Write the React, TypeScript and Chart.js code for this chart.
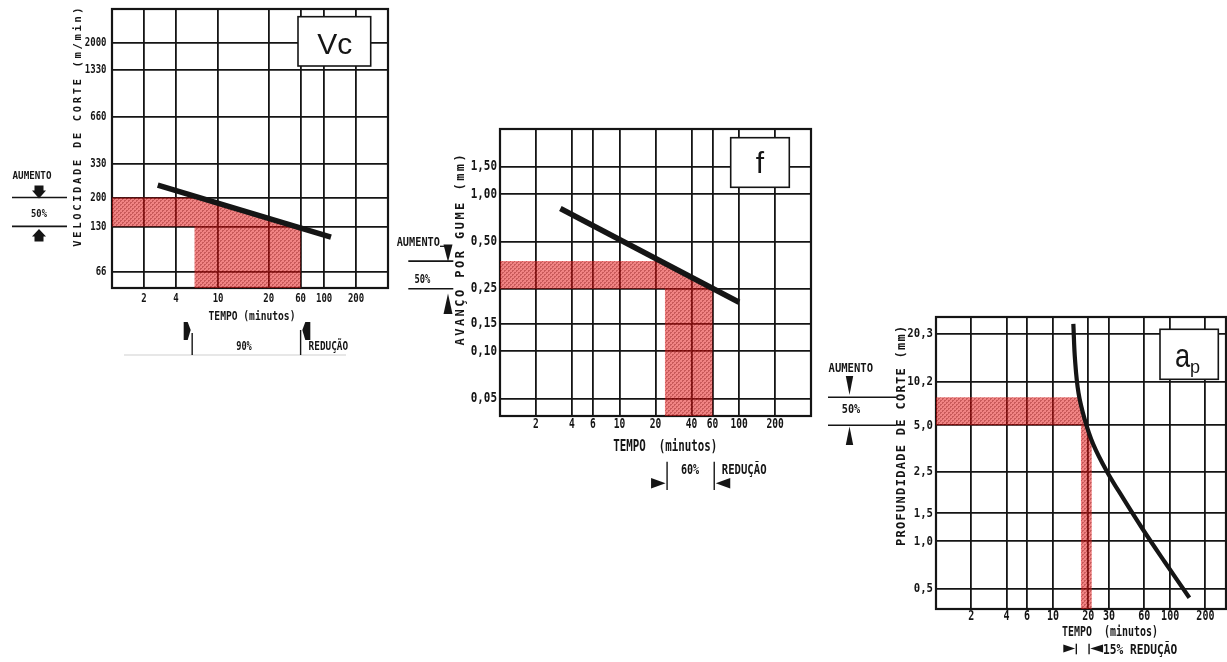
import { useEffect, useRef } from 'react';
import { Chart, registerables } from 'chart.js';

Chart.register(...registerables);

const INK = '#151515';
const MONO = '"DejaVu Sans Mono", "Liberation Mono", monospace';
const SANS = '"Liberation Sans", Arial, sans-serif';

// ---------------- Vc: velocidade de corte x tempo ----------------
const VC_TIME_MIN = 1;
const VC_TIME_MAX = 400;
const VC_SPEED_MIN = 52;
const VC_SPEED_MAX = 3300;
const vcTimeGrid = [2, 4, 10, 30, 60, 100, 200];
const vcTimeLabels = ['2', '4', '10', '20', '60', '100', '200'];
const vcSpeedGrid = [66, 130, 200, 330, 660, 1330, 2000];
const vcSpeedLabels = ['66', '130', '200', '330', '660', '1330', '2000'];
const vcLineTime = [2.7, 116];
const vcLineSpeed = [240, 111];
const vcZoneTime = [1, 6.6, 60, 60, 6, 6, 1];
const vcZoneSpeed = [200, 200, 128, VC_SPEED_MIN, VC_SPEED_MIN, 130, 130];
const vcIncrease = [130, 200];
const vcReduction = [5.7, 60];

// ---------------- f: avanço por gume x tempo ----------------
const F_TIME_MIN = 1;
const F_TIME_MAX = 400;
const F_FEED_MIN = 0.0387;
const F_FEED_MAX = 2.6;
const fTimeGrid = [2, 4, 6, 10, 20, 40, 60, 100, 200];
const fTimeLabels = ['2', '4', '6', '10', '20', '40', '60', '100', '200'];
const fFeedGrid = [0.05, 0.1, 0.15, 0.25, 0.5, 1.0, 1.5];
const fFeedLabels = ['0,05', '0,10', '0,15', '0,25', '0,50', '1,00', '1,50'];
const fLineTime = [3.2, 100];
const fLineFeed = [0.81, 0.205];
const fZoneTime = [1, 22, 60, 60, 24, 24, 1];
const fZoneFeed = [0.375, 0.375, 0.25, F_FEED_MIN, F_FEED_MIN, 0.25, 0.25];
const fIncrease = [0.25, 0.375];
const fReduction = [25, 62];

// ---------------- ap: profundidade de corte x tempo ----------------
const AP_TIME_MIN = 1;
const AP_TIME_MAX = 300;
const AP_DEPTH_MIN = 0.374;
const AP_DEPTH_MAX = 26;
const apTimeGrid = [2, 4, 6, 10, 20, 30, 60, 100, 200];
const apTimeLabels = ['2', '4', '6', '10', '20', '30', '60', '100', '200'];
const apDepthGrid = [0.5, 1.0, 1.5, 2.75, 5.4, 10.2, 20.3];
const apDepthLabels = ['0,5', '1,0', '1,5', '2,5', '5,0', '10,2', '20,3'];
const apCurveTime = [14.9, 15.4, 16.5, 18.6, 22.0, 28.5, 40, 58, 90, 146];
const apCurveDepth = [23.5, 14.0, 8.6, 5.9, 4.1, 2.8, 1.85, 1.2, 0.74, 0.44];
const apZoneTime = [1, 17.2, 19.7, 21.4, 21.4, 17.3, 17.3, 1];
const apZoneDepth = [8.1, 8.1, 5.4, 4.4, AP_DEPTH_MIN, AP_DEPTH_MIN, 5.4, 5.4];
const apIncrease = [5.4, 8.1];
const apReduction = [15.8, 20.3];

type Ctx = CanvasRenderingContext2D;
type Pt = [number, number];
type Area = { left: number; top: number; right: number; bottom: number };
type Map1 = (v: number) => number;

function text(
  ctx: Ctx, s: string, x: number, y: number, size: number,
  align: CanvasTextAlign = 'center', sx = 0.78, font = MONO,
  baseline: CanvasTextBaseline = 'middle', weight = 'bold',
) {
  ctx.save();
  ctx.translate(x, y);
  ctx.scale(sx, 1);
  ctx.font = `${weight} ${size}px ${font}`;
  ctx.textAlign = align;
  ctx.textBaseline = baseline;
  ctx.fillStyle = INK;
  ctx.fillText(s, 0, 0);
  ctx.restore();
}

// letter-spaced text running upwards from yBottom to yTop
function vtext(ctx: Ctx, s: string, cx: number, yBottom: number, yTop: number, size: number) {
  const step = (yBottom - yTop) / s.length;
  ctx.save();
  ctx.translate(cx, yBottom);
  ctx.rotate(-Math.PI / 2);
  ctx.font = `bold ${size}px ${MONO}`;
  ctx.textAlign = 'center';
  ctx.textBaseline = 'middle';
  ctx.fillStyle = INK;
  for (let i = 0; i < s.length; i++) ctx.fillText(s[i], step * (i + 0.5), 0);
  ctx.restore();
}

function shape(ctx: Ctx, pts: Pt[]) {
  ctx.beginPath();
  pts.forEach(([x, y], i) => (i ? ctx.lineTo(x, y) : ctx.moveTo(x, y)));
  ctx.closePath();
  ctx.fillStyle = INK;
  ctx.fill();
}

function seg(ctx: Ctx, x0: number, y0: number, x1: number, y1: number, w = 1.6, color = INK) {
  ctx.beginPath();
  ctx.moveTo(x0, y0);
  ctx.lineTo(x1, y1);
  ctx.lineWidth = w;
  ctx.strokeStyle = color;
  ctx.stroke();
}

function labelBox(ctx: Ctx, x0: number, y0: number, x1: number, y1: number) {
  ctx.fillStyle = '#ffffff';
  ctx.fillRect(x0, y0, x1 - x0, y1 - y0);
  ctx.lineWidth = 1.6;
  ctx.strokeStyle = INK;
  ctx.strokeRect(x0, y0, x1 - x0, y1 - y0);
}

function makeStipple(ctx: Ctx): CanvasPattern | string {
  const c = document.createElement('canvas');
  c.width = 4;
  c.height = 4;
  const g = c.getContext('2d');
  if (!g) return 'rgba(220,50,50,0.6)';
  const img = g.createImageData(4, 4);
  const dark = new Set(['0,0', '1,0', '0,1', '2,2', '3,2', '2,3']);
  for (let y = 0; y < 4; y++) {
    for (let x = 0; x < 4; x++) {
      const k = (y * 4 + x) * 4;
      const d = dark.has(`${x},${y}`);
      img.data[k] = d ? 170 : 228;
      img.data[k + 1] = d ? 0 : 30;
      img.data[k + 2] = d ? 0 : 30;
      img.data[k + 3] = d ? 165 : 140;
    }
  }
  g.putImageData(img, 0, 0);
  return ctx.createPattern(c, 'repeat') || 'rgba(220,50,50,0.6)';
}

interface PanelSpec {
  key: string;
  left: number;
  top: number;
  width: number;
  height: number;
  padding: { left: number; top: number; right: number; bottom: number };
  xRange: [number, number];
  yRange: [number, number];
  xGrid: number[];
  xLabels: string[];
  yGrid: number[];
  yLabels: string[];
  xTick: { size: number; sx: number; gap: number };
  yTick: { size: number; sx: number; gap: number };
  lineX: number[];
  lineY: number[];
  lineWidth: number;
  smooth: boolean;
  zoneX: number[];
  zoneY: number[];
  decorate: (ctx: Ctx, X: Map1, Y: Map1, a: Area) => void;
}

const panels: PanelSpec[] = [
  {
    key: 'vc',
    left: 0,
    top: 0,
    width: 400,
    height: 372,
    padding: { left: 112, top: 9, right: 12, bottom: 84 },
    xRange: [VC_TIME_MIN, VC_TIME_MAX],
    yRange: [VC_SPEED_MIN, VC_SPEED_MAX],
    xGrid: vcTimeGrid,
    xLabels: vcTimeLabels,
    yGrid: vcSpeedGrid,
    yLabels: vcSpeedLabels,
    xTick: { size: 12.5, sx: 0.72, gap: 11 },
    yTick: { size: 12.5, sx: 0.72, gap: 5.5 },
    lineX: vcLineTime,
    lineY: vcLineSpeed,
    lineWidth: 5.5,
    smooth: false,
    zoneX: vcZoneTime,
    zoneY: vcZoneSpeed,
    decorate: (ctx, X, Y, a) => {
      const yHi = Y(vcIncrease[1]);
      const yLo = Y(vcIncrease[0]);
      text(ctx, 'AUMENTO', 32, 176, 11, 'center', 0.84);
      shape(ctx, [[34.5, 185.5], [43.5, 185.5], [43.5, 190.5], [46, 190.5], [39, 198.5], [32, 190.5], [34.5, 190.5]]);
      seg(ctx, 12, yHi, 67, yHi);
      text(ctx, '50%', 39, 214, 11, 'center', 0.8);
      seg(ctx, 12, yLo, 67, yLo);
      shape(ctx, [[39, 229], [46, 236.5], [43.5, 236.5], [43.5, 241.5], [34.5, 241.5], [34.5, 236.5], [32, 236.5]]);
      vtext(ctx, 'VELOCIDADE DE CORTE (m/min)', 78, 248, 6, 10.5);
      text(ctx, 'TEMPO (minutos)', (a.left + a.right) / 2 + 2, a.bottom + 29, 12.5, 'center', 0.77);
      const r0 = X(vcReduction[0]);
      const r1 = X(vcReduction[1]);
      shape(ctx, [[r0 - 8.5, 322], [r0 - 4.5, 322], [r0 - 1.5, 330], [r0 - 4.5, 340], [r0 - 8.5, 340]]);
      seg(ctx, r0, 333, r0, 355, 1.4);
      shape(ctx, [[r1 + 9.7, 322], [r1 + 4.7, 322], [r1 + 1.7, 330], [r1 + 4.7, 340], [r1 + 9.7, 340]]);
      seg(ctx, r1, 330, r1, 355, 1.4);
      text(ctx, '90%', 244, 347, 12, 'center', 0.72);
      text(ctx, 'REDUÇÃO', r1 + 8, 347, 12.5, 'left', 0.75);
      seg(ctx, 124, 355, 346, 355, 1.5, 'rgba(0,0,0,0.13)');
      labelBox(ctx, 298, 16.7, 370.7, 66);
      text(ctx, 'Vc', 334.7, 53.5, 30, 'center', 1, SANS, 'alphabetic', 'normal');
    },
  },
  {
    key: 'f',
    left: 390,
    top: 120,
    width: 432,
    height: 372,
    padding: { left: 110, top: 9, right: 11, bottom: 76 },
    xRange: [F_TIME_MIN, F_TIME_MAX],
    yRange: [F_FEED_MIN, F_FEED_MAX],
    xGrid: fTimeGrid,
    xLabels: fTimeLabels,
    yGrid: fFeedGrid,
    yLabels: fFeedLabels,
    xTick: { size: 14.5, sx: 0.66, gap: 8.5 },
    yTick: { size: 14, sx: 0.78, gap: 3 },
    lineX: fLineTime,
    lineY: fLineFeed,
    lineWidth: 5.5,
    smooth: false,
    zoneX: fZoneTime,
    zoneY: fZoneFeed,
    decorate: (ctx, X, Y, a) => {
      const yHi = Y(fIncrease[1]);
      const yLo = Y(fIncrease[0]);
      text(ctx, 'AUMENTO', 418.3, 242.3, 12.5, 'center', 0.82);
      seg(ctx, 440, 246.3, 446, 246.3, 1.3);
      shape(ctx, [[443.5, 244.5], [452.5, 244.5], [448, 262]]);
      seg(ctx, 408.3, yHi, 453.3, yHi);
      text(ctx, '50%', 422.3, 280, 12.5, 'center', 0.7);
      seg(ctx, 408.3, yLo, 453.3, yLo);
      shape(ctx, [[448, 293.5], [452.5, 314], [443.5, 314]]);
      vtext(ctx, 'AVANÇO POR GUME (mm)', 460.7, 346.7, 153, 12);
      text(ctx, 'TEMPO  (minutos)', 665.3, a.bottom + 31, 15, 'center', 0.72);
      const r0 = X(fReduction[0]);
      const r1 = X(fReduction[1]);
      seg(ctx, r0, 461.7, r0, 490, 1.4);
      shape(ctx, [[r0 - 16, 478], [r0 - 16, 488.5], [r0 - 1.5, 483.2]]);
      text(ctx, '60%', 690, 470, 14, 'center', 0.72);
      seg(ctx, r1, 461.7, r1, 490, 1.4);
      shape(ctx, [[r1 + 16, 478], [r1 + 16, 488.5], [r1 + 1.5, 483.2]]);
      text(ctx, 'REDUÇÃO', r1 + 7.5, 470, 14, 'left', 0.76);
      labelBox(ctx, 730.7, 137.7, 789.3, 187.3);
      text(ctx, 'f', 760, 173.3, 30, 'center', 1, SANS, 'alphabetic', 'normal');
    },
  },
  {
    key: 'ap',
    left: 820,
    top: 300,
    width: 407,
    height: 362,
    padding: { left: 116, top: 17, right: 1, bottom: 53 },
    xRange: [AP_TIME_MIN, AP_TIME_MAX],
    yRange: [AP_DEPTH_MIN, AP_DEPTH_MAX],
    xGrid: apTimeGrid,
    xLabels: apTimeLabels,
    yGrid: apDepthGrid,
    yLabels: apDepthLabels,
    xTick: { size: 13.5, sx: 0.74, gap: 7 },
    yTick: { size: 13, sx: 0.82, gap: 3 },
    lineX: apCurveTime,
    lineY: apCurveDepth,
    lineWidth: 4.2,
    smooth: true,
    zoneX: apZoneTime,
    zoneY: apZoneDepth,
    decorate: (ctx, X, Y, a) => {
      const yHi = Y(apIncrease[1]);
      const yLo = Y(apIncrease[0]);
      text(ctx, 'AUMENTO', 850.8, 369.3, 12, 'center', 0.88);
      shape(ctx, [[845.8, 376], [853.2, 376], [849.5, 395]]);
      seg(ctx, 828, yHi, 896, yHi);
      text(ctx, '50%', 851, 410, 12, 'center', 0.85);
      seg(ctx, 828, yLo, 896, yLo);
      shape(ctx, [[849.5, 426.5], [853.2, 445], [845.8, 445]]);
      vtext(ctx, 'PROFUNDIDADE DE CORTE (mm)', 901.7, 546.7, 325, 12);
      text(ctx, 'TEMPO  (minutos)', 1110, a.bottom + 23, 14, 'center', 0.71);
      const r0 = X(apReduction[0]);
      const r1 = X(apReduction[1]);
      shape(ctx, [[r0 - 13, 644.5], [r0 - 13, 652.5], [r0 - 1.2, 648.5]]);
      seg(ctx, r0, 643.7, r0, 654.3, 1.4);
      seg(ctx, r1, 643.7, r1, 654.3, 1.4);
      shape(ctx, [[r1 + 14, 644.5], [r1 + 14, 652.5], [r1 + 1.2, 648.5]]);
      text(ctx, '15% REDUÇÃO', r1 + 14, 650, 14, 'left', 0.8);
      labelBox(ctx, 1160, 329.3, 1218.3, 379.3);
      text(ctx, 'a', 1175, 366.7, 34, 'left', 0.8, SANS, 'alphabetic', 'normal');
      text(ctx, 'p', 1190, 372.5, 19, 'left', 0.95, SANS, 'alphabetic', 'normal');
    },
  },
];

function decorPlugin(spec: PanelSpec) {
  return {
    id: 'panelDecor',
    beforeDatasetsDraw(chart: Chart) {
      const { ctx, chartArea: a } = chart;
      ctx.save();
      ctx.strokeStyle = INK;
      ctx.lineWidth = 2.2;
      ctx.strokeRect(a.left, a.top, a.right - a.left, a.bottom - a.top);
      ctx.restore();
    },
    afterDraw(chart: Chart) {
      const { ctx, chartArea } = chart;
      const ox = spec.left;
      const oy = spec.top;
      const X = (v: number) => chart.scales.x.getPixelForValue(v) + ox;
      const Y = (v: number) => chart.scales.y.getPixelForValue(v) + oy;
      const a: Area = {
        left: chartArea.left + ox,
        top: chartArea.top + oy,
        right: chartArea.right + ox,
        bottom: chartArea.bottom + oy,
      };
      ctx.save();
      ctx.translate(-ox, -oy);
      spec.xGrid.forEach((v, i) =>
        text(ctx, spec.xLabels[i], X(v), a.bottom + spec.xTick.gap, spec.xTick.size, 'center', spec.xTick.sx));
      spec.yGrid.forEach((v, i) =>
        text(ctx, spec.yLabels[i], a.left - spec.yTick.gap, Y(v), spec.yTick.size, 'right', spec.yTick.sx));
      spec.decorate(ctx, X, Y, a);
      ctx.restore();
    },
  };
}

function PanelChart({ spec }: { spec: PanelSpec }) {
  const ref = useRef<HTMLCanvasElement>(null);

  useEffect(() => {
    const canvas = ref.current;
    if (!canvas) return;
    const ctx2d = canvas.getContext('2d');
    if (!ctx2d) return;
    const stipple = makeStipple(ctx2d);
    const axis = (range: [number, number], grid: number[]) => ({
      type: 'logarithmic' as const,
      min: range[0],
      max: range[1],
      afterBuildTicks: (scale: any) => {
        scale.ticks = grid.map((value) => ({ value }));
      },
      ticks: { display: false },
      grid: { color: INK, lineWidth: 1.8, drawTicks: false },
      border: { display: false },
    });

    const chart = new Chart(canvas, {
      type: 'line',
      data: {
        datasets: [
          {
            label: 'vida da ferramenta',
            data: spec.lineX.map((x, i) => ({ x, y: spec.lineY[i] })),
            borderColor: INK,
            borderWidth: spec.lineWidth,
            borderCapStyle: 'butt',
            pointRadius: 0,
            fill: false,
            tension: spec.smooth ? 0.4 : 0,
            order: 1,
          },
          {
            label: 'faixa',
            data: spec.zoneX.map((x, i) => ({ x, y: spec.zoneY[i] })),
            borderColor: 'rgba(0,0,0,0)',
            borderWidth: 0,
            backgroundColor: stipple as any,
            pointRadius: 0,
            fill: 'shape',
            order: 2,
          },
        ],
      },
      options: {
        responsive: false,
        animation: false,
        events: [],
        layout: { padding: spec.padding },
        plugins: { legend: { display: false }, tooltip: { enabled: false } },
        scales: {
          x: axis(spec.xRange, spec.xGrid),
          y: axis(spec.yRange, spec.yGrid),
        },
      } as any,
      plugins: [decorPlugin(spec)],
    });
    return () => chart.destroy();
  }, [spec]);

  return (
    <canvas
      ref={ref}
      width={spec.width}
      height={spec.height}
      style={{ position: 'absolute', left: spec.left, top: spec.top, width: spec.width, height: spec.height }}
    />
  );
}

export default function App() {
  return (
    <div
      style={{
        position: 'absolute',
        left: 0,
        top: 0,
        width: 1227,
        height: 662,
        overflow: 'hidden',
        background: '#ffffff',
      }}
    >
      {panels.map((p) => (
        <PanelChart key={p.key} spec={p} />
      ))}
    </div>
  );
}
